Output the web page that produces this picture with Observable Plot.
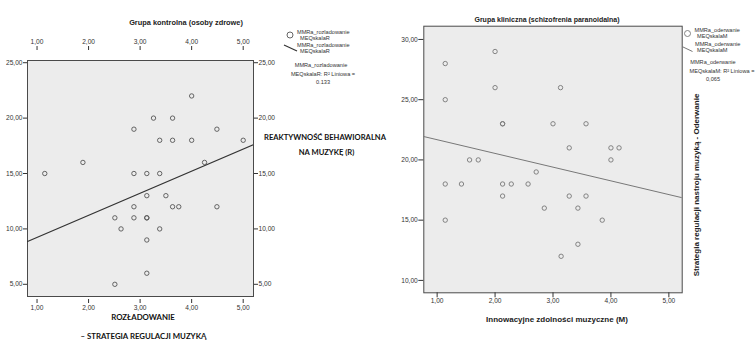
<!DOCTYPE html>
<html>
<head>
<meta charset="utf-8">
<script src="https://cdn.jsdelivr.net/npm/d3@7"></script>
<script src="https://cdn.jsdelivr.net/npm/@observablehq/plot@0.6"></script>
<style>
  html, body { margin: 0; padding: 0; background: #fff; }
  #wrap { position: relative; width: 756px; height: 342px; overflow: hidden; background: #fff; }
  #wrap svg.plotsvg { position: absolute; top: 0; }
  .t { position: absolute; white-space: nowrap; font-family: "Liberation Sans", Arial, sans-serif; color: #222; line-height: 1; }
  .c { transform: translate(-50%, -50%); }
  .l { transform: translate(0, -50%); }
</style>
</head>
<body>
<div id="wrap"></div>
<script>
// ---------- data ----------
// Left panel: Grupa kontrolna
const leftX = [4.0, 3.26, 3.63, 2.88, 4.49, 3.38, 3.63, 4.0, 5.0, 1.89, 4.25, 1.15, 2.88, 3.13, 3.38, 3.13, 3.5, 2.88, 3.63, 3.75, 4.49, 2.51, 2.88, 3.13, 3.13, 2.63, 3.38, 3.13, 3.13, 2.51];
const leftY = [22, 20, 20, 19, 19, 18, 18, 18, 18, 16, 16, 15, 15, 15, 15, 13, 13, 12, 12, 12, 12, 11, 11, 11, 11, 10, 10, 9, 6, 5];
// fitted line values at the edges of the plotting area
const leftFitX = [0.815, 5.2];
const leftFitY = [8.87, 17.6];

// Right panel: Grupa kliniczna
const rightX = [2.0, 1.14, 2.0, 3.13, 1.14, 2.13, 2.13, 3.0, 3.57, 3.28, 4.0, 4.14, 1.56, 1.71, 4.0, 2.71, 1.14, 1.42, 2.13, 2.28, 2.57, 2.13, 3.28, 3.57, 2.85, 3.43, 1.14, 3.85, 3.43, 3.14];
const rightY = [29, 28, 26, 26, 25, 23, 23, 23, 23, 21, 21, 21, 20, 20, 20, 19, 18, 18, 18, 18, 18, 17, 17, 17, 16, 16, 15, 15, 13, 12];
const rightFitX = [0.77, 5.23];
const rightFitY = [21.94, 16.86];

const xTicks = [1, 2, 3, 4, 5];
const leftYTicks = [5, 10, 15, 20, 25];
const rightYTicks = [10, 15, 20, 25, 30];

// ---------- build ----------
const fmt = d => d.toFixed(2).replace(".", ",");
const pts = (xs, ys) => xs.map((x, i) => ({x, y: ys[i]}));
const wrap = document.getElementById("wrap");
const axisFont = {fontFamily: "'Liberation Sans', Arial, sans-serif", fontSize: "6.6px", color: "#333", background: "transparent", overflow: "visible"};

const left = Plot.plot({
  width: 380, height: 342,
  marginLeft: 27, marginRight: 127, marginTop: 60, marginBottom: 46,
  x: {domain: [0.815, 5.2]},
  y: {domain: [3.9, 25.2]},
  style: axisFont,
  marks: [
    Plot.frame({fill: "#ececec", stroke: "#4a4a4a", strokeWidth: 1}),
    Plot.axisX(xTicks, {anchor: "bottom", tickFormat: fmt, tickSize: 4, tickPadding: 2, dy: 3, label: null, stroke: "#333"}),
    Plot.axisX(xTicks, {anchor: "top", tickFormat: fmt, tickSize: 4, tickPadding: 2, dy: -11, label: null, stroke: "#333"}),
    Plot.axisY(leftYTicks, {anchor: "left", tickFormat: fmt, tickSize: 4, tickPadding: 1, label: null, stroke: "#333"}),
    Plot.axisY(leftYTicks, {anchor: "right", tickFormat: fmt, tickSize: 4, tickPadding: 1, label: null, stroke: "#333"}),
    Plot.line(pts(leftFitX, leftFitY), {x: "x", y: "y", stroke: "#333", strokeWidth: 1.2, clip: true}),
    Plot.dot(pts(leftX, leftY), {x: "x", y: "y", r: 2.2, stroke: "#555", strokeWidth: 0.9, fill: "none"})
  ]
});
left.classList.add("plotsvg");
left.style.left = "0px";
wrap.appendChild(left);

const right = Plot.plot({
  width: 376, height: 342,
  marginLeft: 43.3, marginRight: 74.3, marginTop: 25.7, marginBottom: 49.7,
  x: {domain: [0.77, 5.23]},
  y: {domain: [8.97, 31.1]},
  style: axisFont,
  marks: [
    Plot.frame({fill: "#ececec", stroke: "#4a4a4a", strokeWidth: 1}),
    Plot.axisX(xTicks, {anchor: "bottom", tickFormat: fmt, tickSize: 5, tickPadding: 1, label: null, stroke: "#333"}),
    Plot.axisY(rightYTicks, {anchor: "left", tickFormat: fmt, tickSize: 5, tickPadding: 1, label: null, stroke: "#333"}),
    Plot.line(pts(rightFitX, rightFitY), {x: "x", y: "y", stroke: "#777", strokeWidth: 1, clip: true}),
    Plot.dot(pts(rightX, rightY), {x: "x", y: "y", r: 2.2, stroke: "#777", strokeWidth: 0.9, fill: "none"})
  ]
});
right.classList.add("plotsvg");
right.style.left = "380px";
wrap.appendChild(right);

// ---------- texts ----------
function txt(s, x, y, cls, css) {
  const d = document.createElement("div");
  d.className = "t " + cls;
  d.textContent = s;
  d.style.left = x + "px";
  d.style.top = y + "px";
  Object.assign(d.style, css || {});
  wrap.appendChild(d);
  return d;
}
const bold = {fontWeight: "bold"};
const calibri = {fontFamily: "Lato, 'Open Sans', sans-serif", fontWeight: "bold", fontSize: "7.8px", color: "#111"};
const leg = {fontSize: "5.6px", color: "#333"};

txt("Grupa kontrolna (osoby zdrowe)", 186, 23, "c", {...bold, fontSize: "7.4px"});
txt("Grupa kliniczna (schizofrenia paranoidalna)", 547, 19, "c", {...bold, fontSize: "7px"});

// left legend
txt("MMRa_rozladowanie", 297, 32.5, "l", leg);
txt("MEQskalaR", 300, 38.5, "l", leg);
txt("MMRa_rozladowanie", 297, 45.5, "l", leg);
txt("MEQskalaR", 300, 51.5, "l", leg);
txt("MMRa_rozladowanie", 321, 66, "c", leg);
txt("MEQskalaR: R² Liniowa =", 323, 74.5, "c", leg);
txt("0.133", 323, 83, "c", leg);

// right legend
txt("MMRa_oderwanie", 694.5, 31, "l", leg);
txt("MEQskalaM", 697, 37, "l", leg);
txt("MMRa_oderwanie", 695, 45, "l", leg);
txt("MEQskalaM", 697, 51, "l", leg);
txt("MMRa_oderwanie", 713, 63, "c", leg);
txt("MEQskalaM: R² Liniowa =", 722, 71.5, "c", leg);
txt("0,065", 713, 80, "c", leg);

// legend symbols
const ns = "http://www.w3.org/2000/svg";
const sym = document.createElementNS(ns, "svg");
sym.setAttribute("width", 756); sym.setAttribute("height", 342);
sym.style.position = "absolute"; sym.style.left = "0"; sym.style.top = "0";
sym.innerHTML = `
  <circle cx="290" cy="35" r="3" fill="none" stroke="#555" stroke-width="0.9"/>
  <line x1="284" y1="45" x2="297" y2="51" stroke="#333" stroke-width="1.2"/>
  <circle cx="687.5" cy="33.5" r="3" fill="none" stroke="#777" stroke-width="0.9"/>
  <line x1="682" y1="46.5" x2="692.5" y2="51.5" stroke="#777" stroke-width="1"/>`;
wrap.appendChild(sym);

// axis titles
txt("REAKTYWNOŚĆ BEHAWIORALNA", 325, 137.5, "c", {...calibri, fontSize: "7.6px"});
txt("NA MUZYKĘ (R)", 326.5, 153, "c", {...calibri, fontSize: "7.6px"});
txt("ROZŁADOWANIE", 143, 318, "c", calibri);
txt("– STRATEGIA REGULACJI MUZYKĄ", 143.5, 337, "c", calibri);
txt("Innowacyjne zdolności muzyczne (M)", 557, 319.5, "c", {...bold, fontSize: "8px"});
txt("Strategia regulacji nastroju muzyką - Oderwanie", 696.5, 185, "", {...bold, fontSize: "8px", transform: "translate(-50%, -50%) rotate(-90deg)"});
</script>
</body>
</html>
